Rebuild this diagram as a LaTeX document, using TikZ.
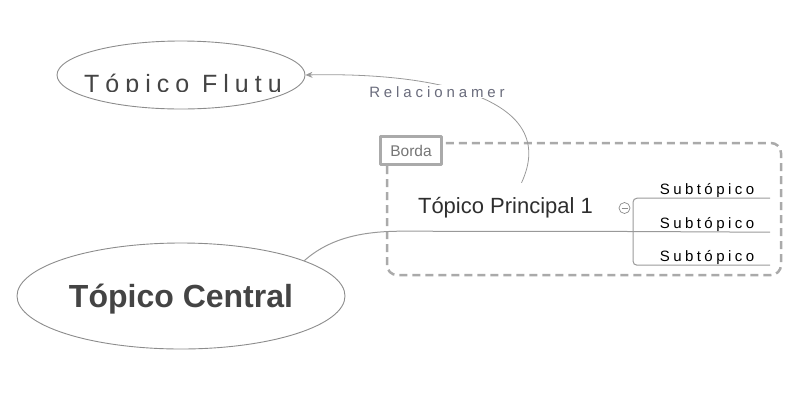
\documentclass[tikz,border=0pt]{standalone}
\usepackage{fontspec}
\setmainfont{Liberation Sans}
\usepackage{tikz}
\usetikzlibrary{arrows.meta, positioning, shapes.geometric, calc}
\definecolor{mline}{HTML}{999999}
\definecolor{medge}{HTML}{8C8C8C}
\definecolor{mborder}{HTML}{AAAAAA}
\definecolor{mtext}{HTML}{444444}
\definecolor{mmain}{HTML}{2E2E2E}
\definecolor{mrel}{HTML}{6A6C7C}
\definecolor{mborda}{HTML}{767676}
\tikzset{
  topicell/.style={draw=medge, ellipse, inner sep=0pt, line width=0.9pt},
  maintopic/.style={text=mmain, inner sep=0pt, text height=30, text depth=18,
                    minimum width=211, font=\fontsize{22}{26}\selectfont},
  subtopic/.style={text=black, inner sep=0pt, text height=12, text depth=4,
                   minimum width=126, font=\fontsize{15}{18}\selectfont\addfontfeature{LetterSpace=23}},
  conn/.style={draw=mline, line width=1pt},
  relarr/.style={-{Stealth[length=7pt, width=6pt]}, draw=mline, line width=0.8pt},
  bordabox/.style={draw=mborder, line width=2.5pt, fill=white, text=mborda,
                   minimum width=61, minimum height=28, inner sep=0pt,
                   font=\fontsize{15.5}{18}\selectfont},
}
\begin{document}
\begin{tikzpicture}[x=1pt, y=-1pt, line join=round]
  \useasboundingbox (0,0) rectangle (800,400);

  %% -- boundary --
  \draw[mborder, line width=2.5pt, dash pattern=on 8pt off 5pt, rounded corners=10pt]
    (387,143) rectangle (781,275);
  \node[bordabox] (borda) at (411,150.5) {Borda};

  %% -- topics --
  \node[topicell, minimum width=328, minimum height=106] (central) at (181,296) {};
  \node[text=mtext, font=\fontsize{32}{38}\selectfont\bfseries] (centraltext) at (181,299) {Tópico Central};

  \node[topicell, minimum width=248, minimum height=68] (float) at (181,75) {};
  \begin{scope}
    \clip (50,30) rectangle (310,91.5);
    \node[anchor=base, text=mtext, inner sep=0pt,
          font=\fontsize{25}{30}\selectfont\addfontfeature{LetterSpace=24}] (floattext) at (183,92) {Tópico Flutu};
  \end{scope}

  \node[maintopic] (main) at (505.5,207) {Tópico Principal 1};
  \coordinate (fork) at (633,231.5);

  \node[subtopic] (sub1) at (707,190) {Subtópico};
  \node[subtopic] (sub2) at (707,224) {Subtópico};
  \node[subtopic] (sub3) at (707,257) {Subtópico};

  %% -- connectors --
  \draw[conn] (central.16) .. controls (330,238) and (362,231.5) .. (main.south west);
  \draw[conn] (main.south west) -- (fork);
  \draw[conn] (fork) -- (sub2.south east);
  \draw[conn, rounded corners=4pt] (sub1.south east) -| (fork) |- (sub3.south east);

  % collapse marker
  \draw[medge, fill=white, line width=0.7pt] (624.5,208) circle (5.5pt);
  \draw[medge, line width=0.7pt] (621.5,208) -- (627.5,208);

  %% -- relationship --
  \draw[relarr] ($(main.north)+(16,0)$) .. controls (560,100) and (440,72) .. (float.east);
  \node[anchor=base, fill=white, inner xsep=1pt, inner ysep=1pt, text=mrel,
        font=\fontsize{15}{18}\selectfont\addfontfeature{LetterSpace=26}] (rellabel) at (437,97) {Relacionamer};
\end{tikzpicture}
\end{document}
